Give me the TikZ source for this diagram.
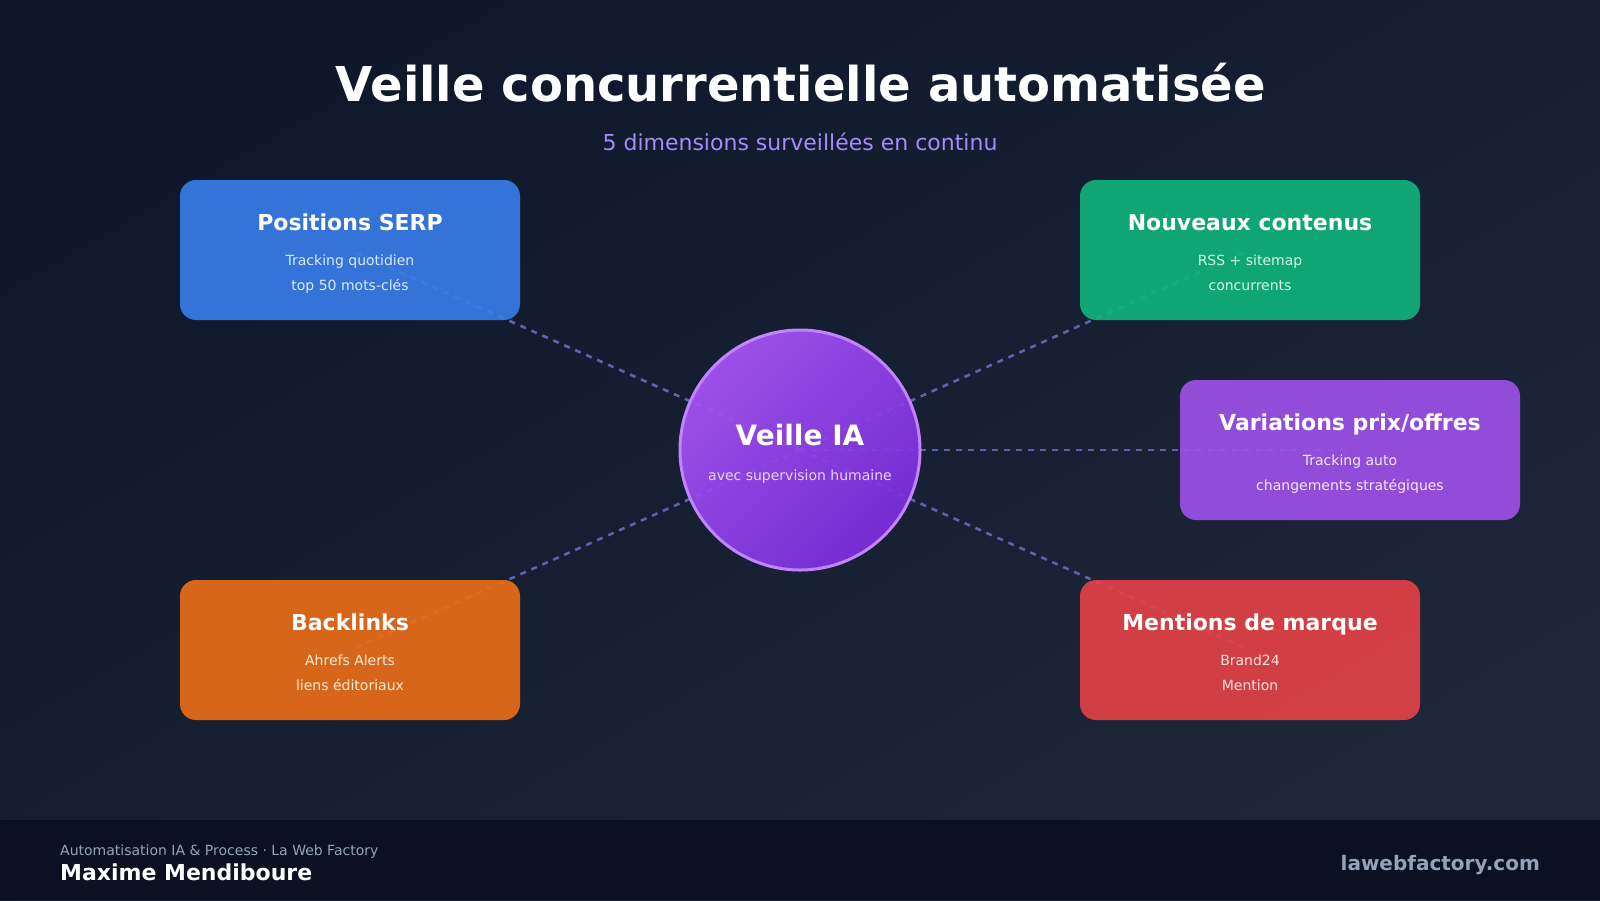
\documentclass[tikz,border=0pt]{standalone}
\usepackage{fontspec}
\setmainfont{DejaVu Sans}
\usetikzlibrary{backgrounds}
\definecolor{bgA}{HTML}{0F172A}
\definecolor{bgB}{HTML}{1E2639}
\definecolor{footbg}{HTML}{0B1120}
\definecolor{cblue}{HTML}{387EEB}
\definecolor{cgreen}{HTML}{10B47C}
\definecolor{cpurple}{HTML}{9F51EB}
\definecolor{corange}{HTML}{ED6E18}
\definecolor{cred}{HTML}{E54347}
\definecolor{tblue}{HTML}{DBEAFE}
\definecolor{tgreen}{HTML}{D1FAE5}
\definecolor{tpurple}{HTML}{F3E8FF}
\definecolor{torange}{HTML}{FFEDD5}
\definecolor{tred}{HTML}{FEE2E2}
\definecolor{hubA}{HTML}{A855F7}
\definecolor{hubB}{HTML}{7C2EE0}
\definecolor{hubline}{HTML}{C084FC}
\definecolor{hubtext}{HTML}{E9D5FF}
\definecolor{subviolet}{HTML}{A78BFA}
\definecolor{graytxt}{HTML}{94A3B8}
\definecolor{connc}{HTML}{5C62AC}
\pgfdeclarelayer{bgl}
\pgfdeclarelayer{lines}
\pgfsetlayers{bgl,lines,main}
\tikzset{
  card/.style={rectangle, rounded corners=16pt, minimum width=340pt, minimum height=140pt, inner sep=0pt, fill opacity=0.9},
  cardtitle/.style={anchor=base, inner sep=0pt, text=white, font=\fontsize{22}{26}\selectfont\bfseries},
  cardtext/.style={anchor=base, inner sep=0pt, font=\fontsize{14}{17}\selectfont},
  conn/.style={draw=connc, line width=2.6pt, dash pattern=on 6pt off 6pt},
  hubnode/.style={circle, minimum size=240pt, inner sep=0pt, draw=hubline, line width=3pt,
     top color=hubA, bottom color=hubB, shading angle=45, fill opacity=0.92},
}
\begin{document}
\begin{tikzpicture}[x=1pt,y=-1pt]
\useasboundingbox (0,0) rectangle (1600,900);
\begin{pgfonlayer}{bgl}
  \shade[top color=bgA, bottom color=bgB, shading angle=30] (0,0) rectangle (1600,900);
  \fill[footbg] (0,820) rectangle (1600,900);
\end{pgfonlayer}

% title
\node[anchor=base, inner sep=0pt, text=white, font=\fontsize{48}{56}\selectfont\bfseries] (title) at (801,101) {Veille concurrentielle automatisée};
\node[anchor=base, inner sep=0pt, text=subviolet, font=\fontsize{22}{26}\selectfont] (subtitle) at (800,150) {5 dimensions surveillées en continu};

% hub
\node[hubnode] (hub) at (800,450) {};
\node[anchor=base, inner sep=0pt, text=white, font=\fontsize{28}{32}\selectfont\bfseries] (hubT) at (800,445) {Veille IA};
\node[anchor=base, inner sep=0pt, text=hubtext, font=\fontsize{14}{17}\selectfont] (hubS) at (800,480) {avec supervision humaine};

% cards
\node[card, fill=cblue] (serp) at (350,250) {};
\node[cardtitle] (serpT) at (350,230) {Positions SERP};
\node[cardtext, text=tblue] (serpA) at (350,265) {Tracking quotidien};
\node[cardtext, text=tblue] (serpB) at (350,290) {top 50 mots-clés};

\node[card, fill=cgreen] (news) at (1250,250) {};
\node[cardtitle] (newsT) at (1250,230) {Nouveaux contenus};
\node[cardtext, text=tgreen] (newsA) at (1250,265) {RSS + sitemap};
\node[cardtext, text=tgreen] (newsB) at (1250,290) {concurrents};

\node[card, fill=cpurple] (price) at (1350,450) {};
\node[cardtitle] (priceT) at (1350,430) {Variations prix/offres};
\node[cardtext, text=tpurple] (priceA) at (1350,465) {Tracking auto};
\node[cardtext, text=tpurple] (priceB) at (1350,490) {changements stratégiques};

\node[card, fill=corange] (back) at (350,650) {};
\node[cardtitle] (backT) at (350,630) {Backlinks};
\node[cardtext, text=torange] (backA) at (350,665) {Ahrefs Alerts};
\node[cardtext, text=torange] (backB) at (350,690) {liens éditoriaux};

\node[card, fill=cred] (brand) at (1250,650) {};
\node[cardtitle] (brandT) at (1250,630) {Mentions de marque};
\node[cardtext, text=tred] (brandA) at (1250,665) {Brand24};
\node[cardtext, text=tred] (brandB) at (1250,690) {Mention};

% connectors
\begin{pgfonlayer}{lines}
  \foreach \t in {serp,news,price,back,brand}
    \draw[conn] (hub.center) -- (\t.center);
\end{pgfonlayer}

% footer
\node[anchor=base west, inner sep=0pt, text=graytxt, font=\fontsize{14}{17}\selectfont] (footA) at (60,855) {Automatisation IA \& Process · La Web Factory};
\node[anchor=base west, inner sep=0pt, text=white, font=\fontsize{22}{26}\selectfont\bfseries] (footB) at (60,880) {Maxime Mendiboure};
\node[anchor=base east, inner sep=0pt, text=graytxt, font=\fontsize{20}{24}\selectfont\bfseries] (site) at (1540,870) {lawebfactory.com};
\end{tikzpicture}
\end{document}
